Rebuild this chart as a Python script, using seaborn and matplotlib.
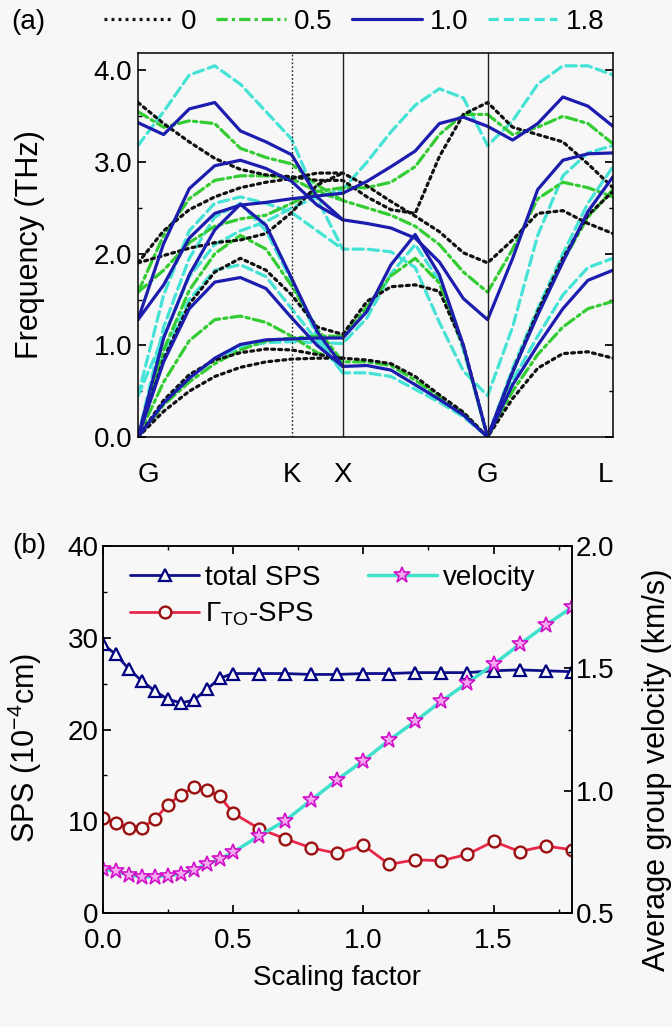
import matplotlib
matplotlib.use("Agg")
import matplotlib.pyplot as plt
from matplotlib.font_manager import FontProperties, findfont
from matplotlib.lines import Line2D
from matplotlib.ticker import MultipleLocator
import pandas as pd
import seaborn as sns

# ---- panel (a): phonon dispersion along G-K-X-G-L ----
k_path = [0.0, 0.177, 0.354, 0.530, 0.707, 0.884, 1.061, 1.237, 1.414, 1.581,
          1.747, 1.914, 2.081, 2.247, 2.414, 2.587, 2.760, 2.934, 3.107, 3.280]
k_ticks = [0.0, 1.061, 1.414, 2.414, 3.280]
k_labels = ["G", "K", "X", "G", "L"]

# branches per scaling factor (short rows stop at X)
freq_00 = [
    [3.65, 3.42, 3.22, 3.04, 2.92, 2.86, 2.84, 2.80, 2.80, 2.62, 2.48, 2.44, 3.06, 3.52, 3.65, 3.38, 3.30, 3.22, 2.98, 2.72],
    [1.90, 2.25, 2.48, 2.62, 2.72, 2.78, 2.82, 2.88, 2.88, 2.74, 2.57, 2.41, 2.24, 2.01, 1.90, 2.15, 2.44, 2.47, 2.33, 2.22],
    [1.90, 1.98, 2.06, 2.12, 2.15, 2.22, 2.45, 2.75, 2.88],
    [0.00, 0.85, 1.45, 1.80, 1.95, 1.82, 1.55, 1.20, 1.12, 1.48, 1.64, 1.66, 1.59, 1.00, 0.00, 0.71, 1.37, 1.95, 2.42, 2.68],
    [0.00, 0.40, 0.68, 0.84, 0.92, 0.96, 0.95, 0.90, 0.86, 0.84, 0.80, 0.66, 0.46, 0.27, 0.00, 0.42, 0.75, 0.91, 0.93, 0.86],
    [0.00, 0.28, 0.50, 0.66, 0.76, 0.82, 0.85, 0.86, 0.86],
]
freq_05 = [
    [3.55, 3.38, 3.45, 3.42, 3.15, 3.05, 2.98, 2.75, 2.58, 2.50, 2.42, 2.30, 2.10, 1.80, 1.58, 2.05, 2.60, 2.78, 2.72, 2.62],
    [1.58, 2.20, 2.60, 2.80, 2.85, 2.85, 2.82, 2.68, 2.58],
    [1.58, 1.82, 2.12, 2.30, 2.38, 2.42, 2.55, 2.68, 2.72, 2.72, 2.78, 2.95, 3.30, 3.52, 3.52, 3.30, 3.38, 3.50, 3.42, 3.20],
    [0.00, 0.95, 1.60, 2.00, 2.20, 2.05, 1.65, 1.18, 0.82, 0.82, 0.78, 0.62, 0.44, 0.26, 0.00, 0.50, 0.90, 1.20, 1.40, 1.48],
    [0.00, 0.60, 1.05, 1.28, 1.32, 1.25, 1.10, 0.92, 0.82],
    [0.00, 0.35, 0.60, 0.80, 0.95, 1.05, 1.08, 1.10, 1.10, 1.42, 1.76, 1.95, 1.68, 0.98, 0.00, 0.70, 1.35, 1.92, 2.40, 2.70],
]
freq_10 = [
    [3.43, 3.30, 3.58, 3.65, 3.34, 3.22, 3.08, 2.62, 2.37, 2.33, 2.28, 2.17, 1.91, 1.51, 1.28, 1.95, 2.70, 3.02, 3.09, 3.10],
    [1.28, 2.11, 2.71, 2.96, 3.02, 2.93, 2.79, 2.53, 2.37],
    [1.28, 1.66, 2.17, 2.44, 2.53, 2.56, 2.60, 2.63, 2.66, 2.79, 2.95, 3.12, 3.42, 3.49, 3.39, 3.24, 3.42, 3.71, 3.61, 3.39],
    [0.00, 1.08, 1.77, 2.26, 2.54, 2.31, 1.73, 1.15, 0.77, 0.78, 0.73, 0.57, 0.41, 0.24, 0.00, 0.57, 1.00, 1.40, 1.71, 1.82],
    [0.00, 0.82, 1.40, 1.69, 1.74, 1.62, 1.30, 1.00, 0.77],
    [0.00, 0.37, 0.64, 0.86, 1.01, 1.06, 1.07, 1.08, 1.08, 1.37, 1.88, 2.21, 1.77, 1.00, 0.00, 0.71, 1.33, 1.91, 2.46, 2.84],
]
freq_18 = [
    [3.18, 3.55, 3.95, 4.05, 3.85, 3.55, 3.25, 2.60, 2.05, 2.05, 2.02, 1.85, 1.25, 0.72, 0.45, 1.20, 2.20, 2.85, 3.10, 3.18],
    [0.45, 1.55, 2.25, 2.55, 2.62, 2.55, 2.45, 2.25, 2.05],
    [0.45, 1.10, 1.75, 2.10, 2.25, 2.35, 2.50, 2.62, 2.70, 3.00, 3.33, 3.62, 3.80, 3.70, 3.18, 3.45, 3.85, 4.05, 4.05, 3.95],
    [0.00, 1.20, 1.95, 2.40, 2.55, 2.25, 1.70, 1.10, 0.70, 0.70, 0.66, 0.52, 0.38, 0.22, 0.00, 0.62, 1.10, 1.55, 1.85, 1.95],
    [0.00, 0.90, 1.50, 1.82, 1.88, 1.75, 1.40, 1.05, 0.70],
    [0.00, 0.38, 0.65, 0.85, 0.98, 1.03, 1.04, 1.03, 1.02, 1.30, 1.78, 2.10, 1.70, 0.95, 0.00, 0.75, 1.40, 2.00, 2.55, 2.95],
]

# ---- panel (b): SPS and group velocity vs scaling factor ----
scaling = [0.0, 0.05, 0.1, 0.15, 0.2, 0.25, 0.3, 0.35, 0.4, 0.45, 0.5,
           0.6, 0.7, 0.8, 0.9, 1.0, 1.1, 1.2, 1.3, 1.4, 1.5, 1.6, 1.7, 1.8]
total_sps = [29.3, 28.2, 26.6, 25.3, 24.2, 23.3, 22.9, 23.2, 24.4, 25.6, 26.1,
             26.1, 26.1, 26.0, 26.0, 26.1, 26.1, 26.2, 26.2, 26.2, 26.4, 26.5, 26.4, 26.3]
gamma_sps = [10.3, 9.8, 9.3, 9.3, 10.2, 11.8, 12.9, 13.7, 13.4, 12.7, 10.9,
             9.2, 8.1, 7.1, 6.5, 7.4, 5.3, 5.8, 5.7, 6.4, 7.8, 6.7, 7.3, 6.9]
velocity = [0.680, 0.670, 0.655, 0.648, 0.648, 0.652, 0.660, 0.675, 0.700, 0.720, 0.748,
            0.815, 0.877, 0.961, 1.045, 1.122, 1.207, 1.284, 1.366, 1.441, 1.516, 1.598, 1.676, 1.749]

sns.set_theme(style="ticks")

# the reference uses a tall, narrow sans face; prefer the narrow Liberation cut
try:
    findfont(FontProperties(family="Liberation Sans Narrow"), fallback_to_default=False)
    FAMILY = ["Liberation Sans Narrow", "Liberation Sans", "DejaVu Sans"]
    FS, FS_ROT = 24, 27
except ValueError:
    FAMILY = ["Liberation Sans", "DejaVu Sans"]
    FS, FS_ROT = 20, 22

plt.rcParams["font.family"] = FAMILY
plt.rcParams["mathtext.fontset"] = "custom"
plt.rcParams["mathtext.rm"] = FAMILY[0]
plt.rcParams["mathtext.it"] = FAMILY[0] + ":italic"
for key in ["text.color", "axes.labelcolor", "xtick.color", "ytick.color", "axes.edgecolor"]:
    plt.rcParams[key] = "black"
plt.rcParams["axes.linewidth"] = 1.1
BG = "#f7f7f7"

fig = plt.figure(figsize=(6.72, 10.27), dpi=100, facecolor=BG)
W, H = 672.0, 1027.0


def box(left, top, right, bottom):
    return [left / W, 1 - bottom / H, (right - left) / W, (bottom - top) / H]


# series styles for panel (a): drawn in this order
styles = [
    ("1.8", freq_18, "#45e3d6", (0, (3.2, 1.6))),
    ("0.5", freq_05, "#33cc33", (0, (3.5, 1.3, 1.0, 1.3))),
    ("0", freq_00, "#111111", (0, (0.9, 1.3))),
    ("1.0", freq_10, "#1c1cae", "-"),
]

ax = fig.add_axes(box(138, 53, 613, 437), facecolor=BG)
for label, branches, color, ls in styles:
    for br in branches:
        df = pd.DataFrame({"k": k_path[:len(br)], "f": br})
        sns.lineplot(data=df, x="k", y="f", ax=ax, color=color, linestyle=ls,
                     linewidth=2.3, estimator=None, sort=False,
                     dash_capstyle="round")

ax.axvline(k_ticks[1], color="#222222", lw=1.0, ls=(0, (1.2, 1.6)))
ax.axvline(k_ticks[2], color="#222222", lw=1.0)
ax.axvline(k_ticks[3], color="#222222", lw=1.0)
ax.set_xlim(0, 3.28)
ax.set_ylim(0, 4.19)
ax.set_xticks(k_ticks)
ax.set_xticklabels(k_labels)
ax.tick_params(axis="x", length=0, pad=18, labelsize=FS)
xt = ax.get_xticklabels()
xt[0].set_ha("left")
xt[-1].set_ha("right")
ax.yaxis.set_major_locator(MultipleLocator(1.0))
ax.yaxis.set_minor_locator(MultipleLocator(0.5))
ax.set_yticklabels([f"{v:.1f}" for v in ax.get_yticks()])
ax.tick_params(axis="y", which="both", direction="in", left=True, right=True,
               labelsize=FS, pad=4)
ax.tick_params(axis="y", which="major", length=6)
ax.tick_params(axis="y", which="minor", length=3)
ax.set_xlabel("")
ax.set_ylabel("Frequency (THz)", fontsize=FS_ROT)
ax.yaxis.set_label_coords(-0.196, 0.50)

handles = []
labels = []
for label, branches, color, ls in [styles[2], styles[1], styles[3], styles[0]]:
    handles.append(Line2D([], [], color=color, linestyle=ls, linewidth=2.3))
    labels.append(label)
fig.legend(handles, labels, loc="center", bbox_to_anchor=(354 / W, 1 - 22 / H),
           ncol=4, frameon=False, fontsize=FS, handlelength=2.5,
           handletextpad=0.3, columnspacing=0.7)
fig.text(28 / W, 1 - 22 / H, "(a)", ha="center", va="center", fontsize=FS)

# ---- panel (b) ----
bx = fig.add_axes(box(102.7, 546, 571.7, 913), facecolor=BG)
bx2 = bx.twinx()

sns.lineplot(x=scaling, y=total_sps, ax=bx, color="#10108a", linewidth=2.0,
             marker="^", markersize=9, markerfacecolor=BG,
             markeredgecolor="#000080", markeredgewidth=1.6,
             estimator=None, sort=False)
sns.lineplot(x=scaling, y=gamma_sps, ax=bx, color="#e8284a", linewidth=2.0,
             marker="o", markersize=8.5, markerfacecolor=BG,
             markeredgecolor="#9a1010", markeredgewidth=1.7,
             estimator=None, sort=False)
sns.lineplot(x=scaling, y=velocity, ax=bx2, color="#3fe0cc", linewidth=2.5,
             marker="*", markersize=12, markerfacecolor="#f6a8f0",
             markeredgecolor="#d010c8", markeredgewidth=1.2,
             estimator=None, sort=False)

bx.set_xlim(0, 1.8)
bx.set_ylim(0, 40)
bx2.set_ylim(0.5, 2.0)
bx.xaxis.set_major_locator(MultipleLocator(0.5))
bx.xaxis.set_minor_locator(MultipleLocator(0.25))
bx.yaxis.set_major_locator(MultipleLocator(10))
bx.yaxis.set_minor_locator(MultipleLocator(5))
bx2.yaxis.set_major_locator(MultipleLocator(0.5))
bx2.yaxis.set_minor_locator(MultipleLocator(0.25))
bx.set_xticklabels([f"{v:.1f}" for v in bx.get_xticks()])
bx2.set_yticklabels([f"{v:.1f}" for v in bx2.get_yticks()])
bx.tick_params(which="both", direction="in", top=True, right=False, labelsize=FS)
bx.tick_params(axis="x", pad=11)
bx.tick_params(axis="y", pad=3)
bx.tick_params(which="major", length=6)
bx.tick_params(which="minor", length=3)
bx2.tick_params(which="both", direction="in", labelsize=FS, pad=3)
bx2.tick_params(which="major", length=6)
bx2.tick_params(which="minor", length=3)
bx.set_xlabel("Scaling factor", fontsize=FS, labelpad=8)
bx.set_ylabel("SPS (10$^{-4}$cm)", fontsize=FS_ROT)
bx.yaxis.set_label_coords(-0.125, 0.45)
bx2.set_ylabel("Average group velocity (km/s)", fontsize=FS_ROT)
bx2.yaxis.set_label_coords(1.150, 0.39)

leg_h = [
    Line2D([], [], color="#10108a", lw=2.0, marker="^", ms=9, mfc=BG,
           mec="#000080", mew=1.6),
    Line2D([], [], color="#e8284a", lw=2.0, marker="o", ms=8.5, mfc=BG,
           mec="#9a1010", mew=1.7),
    Line2D([], [], color="#3fe0cc", lw=2.5, marker="*", ms=12, mfc="#f6a8f0",
           mec="#d010c8", mew=1.2),
]
leg_l = ["total SPS", "Γ$_{\\mathrm{TO}}$-SPS", "velocity"]
bx2.legend(leg_h, leg_l, loc="upper left", bbox_to_anchor=(0.058, 0.948),
           ncol=2, frameon=False, fontsize=FS, handlelength=2.5,
           handletextpad=0.2, columnspacing=1.7, labelspacing=0.35,
           borderpad=0, borderaxespad=0)
fig.text(29 / W, 1 - 546 / H, "(b)", ha="center", va="center", fontsize=FS)

fig.savefig("out.png", dpi=100, facecolor=BG)
